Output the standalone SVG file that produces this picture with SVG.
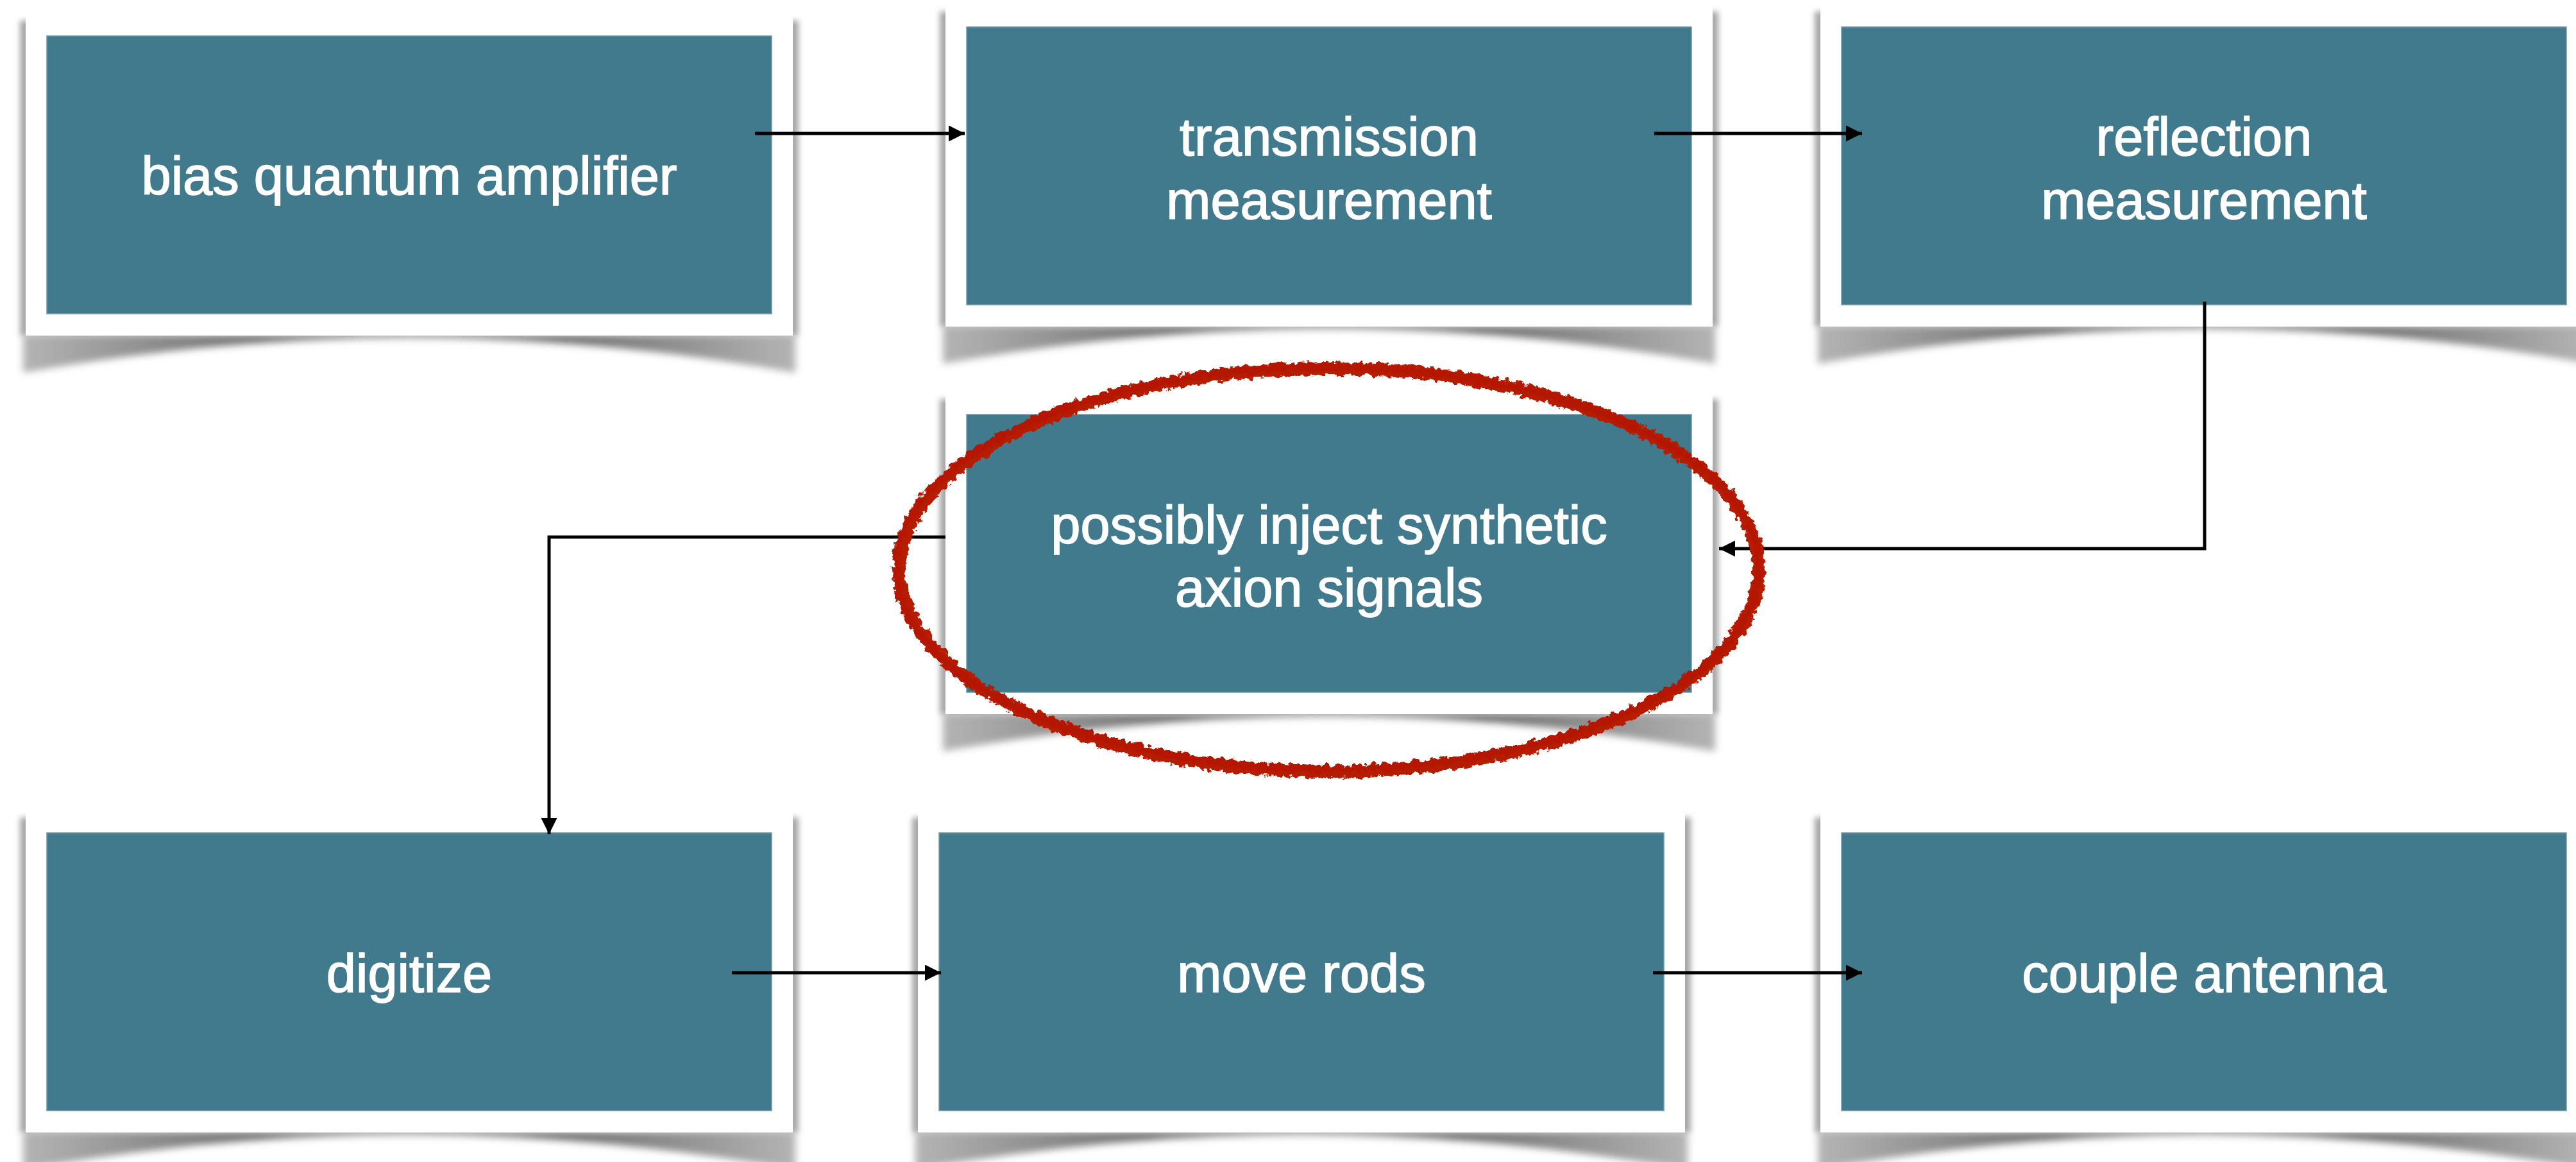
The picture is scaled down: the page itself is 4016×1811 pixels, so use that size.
<svg xmlns="http://www.w3.org/2000/svg" width="4016" height="1811" viewBox="0 0 4016 1811">
<style>
.frame{fill:#ffffff;}
.side{fill:#a8a8a8;filter:url(#blur4);}
.curl{fill:url(#shadowGrad);filter:url(#blur6);}
.teal{fill:#417a8c;stroke:#6f9bab;stroke-width:1.5;}
.lbl{fill:#ffffff;stroke:#ffffff;stroke-width:1.6;font-family:"Liberation Sans",Arial,Helvetica,sans-serif;font-size:83px;text-anchor:middle;}
.conn{fill:none;stroke:#000000;stroke-width:5;marker-end:url(#arrow);}
</style>
<defs>
<filter id="blur4" x="-5%" y="-5%" width="110%" height="115%"><feGaussianBlur stdDeviation="4"/></filter>
<filter id="blur6" x="-5%" y="-50%" width="110%" height="200%"><feGaussianBlur stdDeviation="6"/></filter>
<linearGradient id="shadowGrad" x1="0" y1="0" x2="1" y2="0">
<stop offset="0" stop-color="#b4b4b4"/>
<stop offset="0.3" stop-color="#707070"/>
<stop offset="0.5" stop-color="#8e8e8e"/>
<stop offset="0.7" stop-color="#707070"/>
<stop offset="1" stop-color="#b4b4b4"/>
</linearGradient>
<filter id="rough" x="-5%" y="-10%" width="110%" height="120%">
<feTurbulence type="fractalNoise" baseFrequency="0.11" numOctaves="3" seed="4" result="n"/>
<feDisplacementMap in="SourceGraphic" in2="n" scale="14" xChannelSelector="R" yChannelSelector="G"/>
</filter>
<marker id="arrow" markerUnits="userSpaceOnUse" markerWidth="26" markerHeight="26" refX="25" refY="12.5" orient="auto">
<path d="M0,0 L25,12.5 L0,25 Z" fill="#000000"/>
</marker>
<g id="card">
<path class="curl" d="M-4,497 L1200,497 L1200,557 Q598,448 -4,557 Z"/>
<rect class="side" x="-9" y="8" width="1214" height="491"/>
<rect class="frame" x="0" y="0" width="1196" height="499"/>
<rect class="teal" x="33" y="32" width="1130" height="433"/>
</g>
</defs>

<g id="node-bias" transform="translate(40,24)">
<use href="#card"/>
<text class="lbl" x="598" y="279">bias quantum amplifier</text>
</g>
<g id="node-transmission" transform="translate(1474,10)">
<use href="#card"/>
<text class="lbl" x="598" y="232">transmission</text>
<text class="lbl" x="598" y="331">measurement</text>
</g>
<g id="node-reflection" transform="translate(2838,10)">
<use href="#card"/>
<text class="lbl" x="598" y="232">reflection</text>
<text class="lbl" x="598" y="331">measurement</text>
</g>
<g id="node-inject" transform="translate(1474,614)">
<use href="#card"/>
<text class="lbl" x="598" y="233">possibly inject synthetic</text>
<text class="lbl" x="598" y="331">axion signals</text>
</g>
<g id="node-digitize" transform="translate(40,1266)">
<use href="#card"/>
<text class="lbl" x="598" y="280">digitize</text>
</g>
<g id="node-moverods" transform="translate(1431,1266)">
<use href="#card"/>
<text class="lbl" x="598" y="280">move rods</text>
</g>
<g id="node-couple" transform="translate(2838,1266)">
<use href="#card"/>
<text class="lbl" x="598" y="280">couple antenna</text>
</g>

<g id="connectors">
<path class="conn" d="M1177,208 H1504"/>
<path class="conn" d="M2579,208 H2903"/>
<path class="conn" d="M3437,470 V855 H2680"/>
<path class="conn" d="M1474,837 H856 V1300"/>
<path class="conn" d="M1141,1516 H1467"/>
<path class="conn" d="M2577,1516 H2903"/>
</g>

<g id="highlight" filter="url(#rough)">
<ellipse cx="2072" cy="888" rx="670" ry="314" fill="none" stroke="#b51a00" stroke-width="20"/>
<ellipse cx="2069" cy="885" rx="673" ry="313" fill="none" stroke="#b51a00" stroke-width="10" opacity="0.85"/>
</g>
</svg>
